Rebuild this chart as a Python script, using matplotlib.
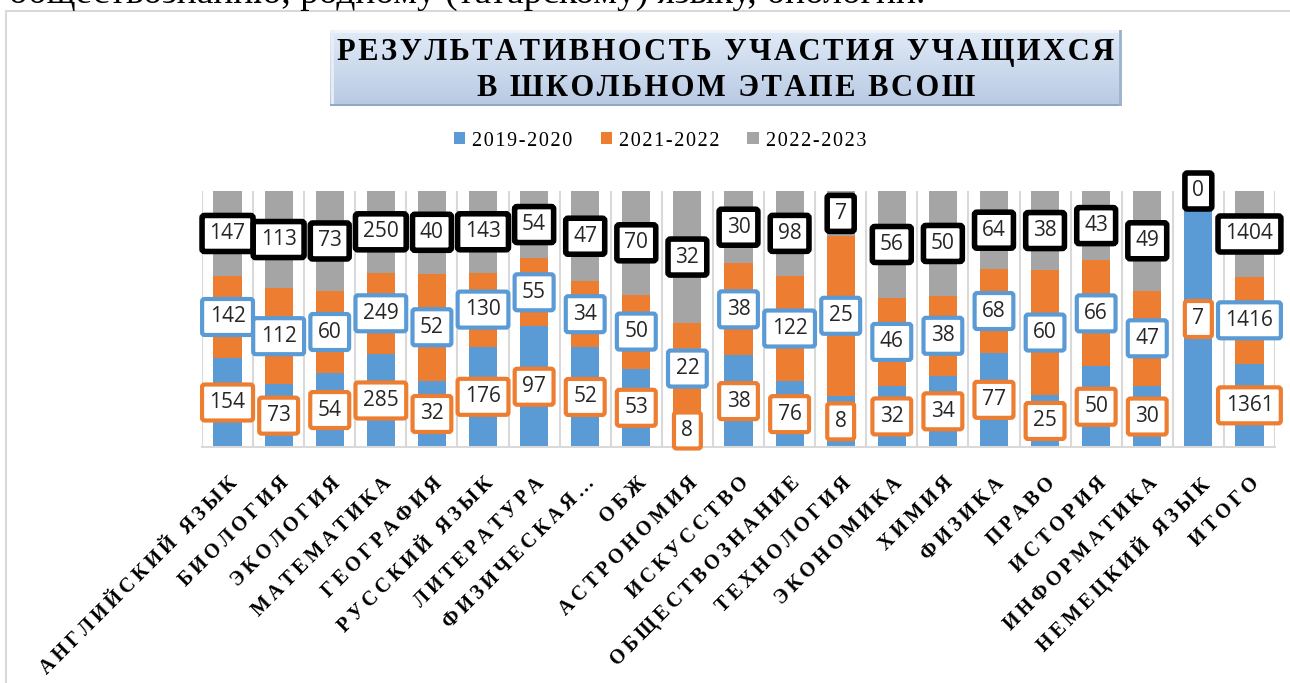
import numpy as np
import matplotlib
matplotlib.use("Agg")
import matplotlib.pyplot as plt
from matplotlib.patches import Rectangle, Patch

W, H = 1290, 683

subjects = [
    "АНГЛИЙСКИЙ ЯЗЫК", "БИОЛОГИЯ", "ЭКОЛОГИЯ", "МАТЕМАТИКА", "ГЕОГРАФИЯ",
    "РУССКИЙ ЯЗЫК", "ЛИТЕРАТУРА", "ФИЗИЧЕСКАЯ…", "ОБЖ", "АСТРОНОМИЯ",
    "ИСКУССТВО", "ОБЩЕСТВОЗНАНИЕ", "ТЕХНОЛОГИЯ", "ЭКОНОМИКА", "ХИМИЯ",
    "ФИЗИКА", "ПРАВО", "ИСТОРИЯ", "ИНФОРМАТИКА", "НЕМЕЦКИЙ ЯЗЫК", "ИТОГО",
]
years = ["2019-2020", "2021-2022", "2022-2023"]
y2019 = [154, 73, 54, 285, 32, 176, 97, 52, 53, 8, 38, 76, 8, 32, 34, 77, 25, 50, 30, 7, 1361]
y2021 = [142, 112, 60, 249, 52, 130, 55, 34, 50, 22, 38, 122, 25, 46, 38, 68, 60, 66, 47, 0, 1416]
y2022 = [147, 113, 73, 250, 40, 143, 54, 47, 70, 32, 30, 98, 7, 56, 50, 64, 38, 43, 49, 0, 1404]

bar_colors = ["#5B9BD5", "#ED7D31", "#A5A5A5"]
box_edges = ["#ED7D31", "#5B9BD5", "#000000"]
box_lw = [3.0, 3.0, 4.0]

SERIF = ["Liberation Serif", "DejaVu Serif"]


def spaced(s, sep="\u2009"):
    return sep.join(s)


fig = plt.figure(figsize=(W / 100, H / 100), dpi=100)
fig.patch.set_facecolor("white")

# text of the document above the chart (cut off by the screenshot)
fig.text(925 / W, 1 - 3 / H, "обществознанию, родному (татарскому) языку, биологии.",
         ha="right", va="baseline", fontsize=27, family=SERIF, color="black")

# chart frame
fig.add_artist(Rectangle((6 / W, -0.05), 1.2, 1 - 11 / H + 0.05,
                         transform=fig.transFigure, fill=False,
                         edgecolor="#D9D9D9", lw=1.5))

ax = fig.add_axes([202 / W, 1 - 447 / H, (1275 - 202) / W, (447 - 191) / H])

data = np.array([y2019, y2021, y2022], dtype=float)
totals = data.sum(axis=0)
shares = data / totals
x = np.arange(len(subjects))
bottom = np.zeros(len(subjects))
for i in range(3):
    ax.bar(x, shares[i], 0.55, bottom=bottom, color=bar_colors[i], zorder=2)
    bottom += shares[i]

# data labels at segment centres
cum = np.zeros(len(subjects))
for i in range(3):
    for j in range(len(subjects)):
        yc = cum[j] + shares[i, j] / 2
        ax.text(x[j], yc, str(int(data[i, j])), ha="center", va="center",
                fontsize=15, family="Open Sans", color="#262626", zorder=5 + i,
                bbox=dict(boxstyle="round,pad=0.36,rounding_size=0.12",
                          fc="white", ec=box_edges[i], lw=box_lw[i]),
                clip_on=False)
    cum += shares[i]

ax.set_xlim(-0.5, len(subjects) - 0.5)
ax.set_ylim(0, 1)
ax.set_yticks([])
for b in np.arange(-0.5, len(subjects), 1.0):
    ax.axvline(b, color="#D9D9D9", lw=1.5, zorder=1)
for s in ["top", "left", "right"]:
    ax.spines[s].set_visible(False)
ax.spines["bottom"].set_color("#D9D9D9")
ax.spines["bottom"].set_linewidth(1.5)

ax.set_xticks(x)
ax.set_xticklabels([spaced(s) for s in subjects], rotation=45, ha="right",
                   rotation_mode="anchor", fontsize=14.5, fontweight="bold",
                   family=SERIF)
ax.tick_params(axis="x", length=0, pad=19)

# legend
handles = [Patch(facecolor=c, edgecolor="none") for c in bar_colors]
fig.legend(handles, [spaced(y, "\u200a") for y in years], loc="center",
           bbox_to_anchor=(660 / W, 1 - 141 / H), ncol=3, frameon=False,
           prop={"family": SERIF, "size": 14.5}, handlelength=0.55, handleheight=0.55,
           handletextpad=0.35, columnspacing=1.4)

# title box with gradient
tax = fig.add_axes([330 / W, 1 - 106 / H, (1122 - 330) / W, (106 - 30) / H])
grad = np.linspace(0, 1, 100).reshape(-1, 1)
c_top = np.array([0.88, 0.92, 0.97])
c_bot = np.array([0.72, 0.79, 0.89])
img = c_top + (c_bot - c_top) * grad[:, :, None]
tax.imshow(img, aspect="auto", extent=(0, 1, 0, 1), origin="upper")
tax.plot([0, 1], [0.99, 0.99], color="#F2F6FB", lw=2)
tax.plot([0.002, 0.002], [0, 1], color="#E8EEF7", lw=2)
tax.plot([0, 1], [0.01, 0.01], color="#8EA5C5", lw=2)
tax.plot([0.998, 0.998], [0, 1], color="#9DB2CF", lw=2)
tax.set_xlim(0, 1)
tax.set_ylim(0, 1)
tax.axis("off")
tax.text(0.5, 0.47, spaced("РЕЗУЛЬТАТИВНОСТЬ УЧАСТИЯ УЧАЩИХСЯ", "\u200a") + "\n" +
         spaced("В ШКОЛЬНОМ ЭТАПЕ ВСОШ", "\u200a"), ha="center", va="center",
         fontsize=22, fontweight="bold", family=SERIF, linespacing=1.3,
         color="black")

fig.savefig("out.png", dpi=100)
